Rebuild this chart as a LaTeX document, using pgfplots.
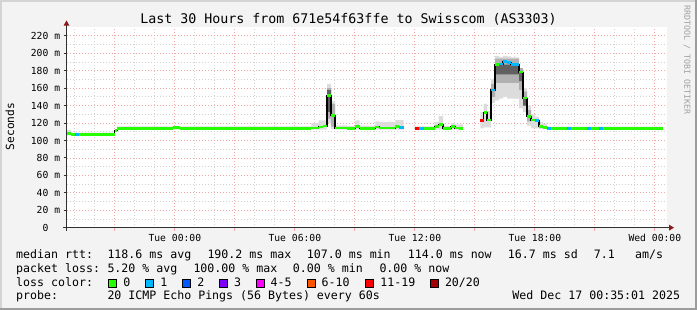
\documentclass[border=0pt]{standalone}
\usepackage{fontspec}
\usepackage{pgfplots}
\pgfplotsset{compat=1.18}
\usepgfplotslibrary{fillbetween}
\newfontfamily\mono{DejaVu Sans Mono}
\definecolor{bgc}{HTML}{F3F3F3}
\definecolor{shA}{HTML}{D4D4D4}
\definecolor{shB}{HTML}{9C9C9C}
\definecolor{mgrid}{HTML}{F0A8A8}
\definecolor{mingrid}{HTML}{D2D2D2}
\definecolor{axisc}{HTML}{303030}
\definecolor{arrowc}{HTML}{8C1A1A}
\definecolor{wm}{HTML}{A0A0A0}
\definecolor{l0}{HTML}{26FF00}
\definecolor{l1}{HTML}{00B8FF}
\definecolor{l2}{HTML}{0059FF}
\definecolor{l3}{HTML}{7E00FF}
\definecolor{l4}{HTML}{FF00FF}
\definecolor{l6}{HTML}{FF5500}
\definecolor{l11}{HTML}{FF0000}
\definecolor{l20}{HTML}{A10000}
\definecolor{smokeL}{HTML}{DCDCDC}
\definecolor{smokeM}{HTML}{B0B0B0}
\definecolor{smokeD}{HTML}{606060}
\newcommand{\lt}{\mono\fontsize{11.6}{12}\selectfont}
\pagecolor{bgc}
\begin{document}
\begin{tikzpicture}
\path (0pt,0pt) rectangle (697pt,310pt);
\fill[shA] (0pt,308pt) rectangle (697pt,310pt);
\fill[shA] (0pt,0pt) rectangle (2pt,310pt);
\fill[shB] (0pt,0pt) rectangle (697pt,2pt);
\fill[shB] (695pt,0pt) rectangle (697pt,310pt);

\begin{axis}[
  at={(66.5pt,82.3pt)}, anchor=south west,
  scale only axis, width=600pt, height=200.5pt,
  xmin=-5.4167, xmax=24.5833, ymin=0, ymax=230,
  axis line style={draw=none},
  axis background/.style={fill=white},
  xtick={-3,0,...,24},
  xticklabels={{},Tue 00:00,{},Tue 06:00,{},Tue 12:00,{},Tue 18:00,{},Wed 00:00},
  minor xtick={-5,...,24},
  ytick={0,20,...,220},
  yticklabels={0\hphantom{mm},20 m,40 m,60 m,80 m,100 m,120 m,140 m,160 m,180 m,200 m,220 m},
  minor ytick={10,30,...,210},
  grid=both,
  major grid style={mgrid, dash pattern=on 1pt off 2pt, line width=0.9pt},
  minor grid style={mingrid, dash pattern=on 1pt off 2pt, line width=0.9pt},
  tick align=outside, major tick length=3pt, minor tick length=0pt,
  xtick style={mgrid, line width=1pt},
  ytick style={axisc, line width=1pt},
  xtick pos=bottom, ytick pos=left,
  ticklabel style={font=\mono\fontsize{9.7}{10}\selectfont, text=black},
  xticklabel style={inner sep=0pt, yshift=-3.5pt},
  yticklabel style={inner sep=0pt, xshift=-3.2pt},
]
% ---------- smoke: light ----------
\addplot[name path=UA, const plot, draw=none] coordinates {(-5.417,112) (-5.19,109) (-3.01,113) (-2.875,116.3) (6.825,120) (7.19,123) (7.61,165) (7.81,145) (8.01,117.5) (8.61,116.5) (9.025,123) (9.24,117) (10.025,122) (10.225,121) (11.025,123.5) (11.44,123.5)};
\addplot[name path=LA, const plot, draw=none] coordinates {(-5.417,106) (-5.19,105.5) (-3.01,110) (-2.875,112.5) (6.825,112.5) (7.61,120) (7.81,113) (8.01,112.5) (11.44,112.5)};
\addplot[smokeL] fill between[of=UA and LA];
\addplot[name path=UC, const plot, draw=none] coordinates {(11.99,116.3) (12.99,121) (13.19,128) (13.41,116.5) (13.81,120) (14.01,118.5) (14.41,118.5)};
\addplot[name path=LC, const plot, draw=none] coordinates {(11.99,112.5) (14.41,112.5)};
\addplot[smokeL] fill between[of=UC and LC];
\addplot[name path=UD, const plot, draw=none] coordinates {(15.275,133) (15.44,142) (15.61,134) (15.81,170) (16.01,197) (16.21,196) (16.41,197) (16.61,196.5) (16.81,195.5) (17.21,182) (17.41,160) (17.61,140) (17.81,130) (18.01,127) (18.21,121) (18.41,119) (18.61,116) (24.41,116)};
\addplot[name path=LD, const plot, draw=none] coordinates {(15.275,114) (15.44,115) (15.81,143) (16.01,146) (16.21,148) (16.41,150) (16.61,148) (17.21,137) (17.41,133) (17.61,117) (17.81,114) (18.21,113) (24.41,112.5)};
\addplot[smokeL] fill between[of=UD and LD];
% ---------- smoke: medium ----------
\addplot[name path=UMB, const plot, draw=none] coordinates {(7.61,160) (7.81,142) (8.01,142)};
\addplot[name path=LMB, const plot, draw=none] coordinates {(7.61,125) (7.81,116) (8.01,116)};
\addplot[smokeM] fill between[of=UMB and LMB];
\addplot[name path=UMD, const plot, draw=none] coordinates {(15.81,165) (16.01,194) (17.21,183) (17.41,156) (17.61,135) (17.81,135)};
\addplot[name path=LMD, const plot, draw=none] coordinates {(15.81,150) (16.01,166) (17.21,158) (17.41,140) (17.61,122) (17.81,122)};
\addplot[smokeM] fill between[of=UMD and LMD];
% ---------- smoke: dark ----------
\addplot[name path=UDB, const plot, draw=none] coordinates {(7.61,158) (7.81,158)};
\addplot[name path=LDB, const plot, draw=none] coordinates {(7.61,133) (7.81,133)};
\addplot[smokeD] fill between[of=UDB and LDB];
\addplot[name path=UDD, const plot, draw=none] coordinates {(16.01,187) (17.21,180) (17.41,150) (17.61,150)};
\addplot[name path=LDD, const plot, draw=none] coordinates {(16.01,176) (17.21,168) (17.41,140) (17.61,140)};
\addplot[smokeD] fill between[of=UDD and LDD];
% ---------- median: black steps ----------
\addplot[const plot, black, line width=1.1pt] coordinates {(-5.417,108.5) (-5.19,107) (-3.01,111.7) (-2.875,113.5) (-0.075,114.5) (0.275,113.5) (6.825,114.3) (7.19,115.5) (7.39,116.6) (7.61,151.4) (7.81,128.4) (8.01,114.3) (8.61,113.5) (9.025,115.8) (9.24,113.5) (10.025,115.5) (10.225,114.3) (11.025,116) (11.225,114.6) (11.44,114.6)};
\addplot[const plot, black, line width=1.1pt] coordinates {(11.99,113.5) (12.99,116) (13.19,118.5) (13.41,113.5) (13.81,116) (14.01,114.3) (14.21,113.5) (14.41,113.5)};
\addplot[const plot, black, line width=1.1pt] coordinates {(15.275,123.2) (15.44,131.9) (15.61,123.5) (15.81,157.9) (16.01,187) (16.21,187.7) (16.41,190.2) (16.61,189.2) (16.81,187) (17.21,178.5) (17.41,148.7) (17.61,128) (17.81,123.5) (18.01,122.7) (18.21,116.3) (18.41,114.7) (18.61,113.8) (24.41,113.8)};
% ---------- median: loss colour 0 ----------
\addplot[jump mark left, l0, line width=2.8pt] coordinates {(-5.417,108.5) (-5.19,107) (-3.01,111.7) (-2.875,113.5) (-0.075,114.5) (0.275,113.5) (6.825,114.3) (7.19,115.5) (7.39,116.6) (7.61,151.4) (7.81,128.4) (8.01,114.3) (8.61,113.5) (9.025,115.8) (9.24,113.5) (10.025,115.5) (10.225,114.3) (11.025,116) (11.225,114.6) (11.44,114.6)};
\addplot[jump mark left, l0, line width=2.8pt] coordinates {(11.99,113.5) (12.99,116) (13.19,118.5) (13.41,113.5) (13.81,116) (14.01,114.3) (14.21,113.5) (14.41,113.5)};
\addplot[jump mark left, l0, line width=2.8pt] coordinates {(15.275,123.2) (15.44,131.9) (15.61,123.5) (15.81,157.9) (16.01,187) (16.21,187.7) (16.41,190.2) (16.61,189.2) (16.81,187) (17.21,178.5) (17.41,148.7) (17.61,128) (17.81,123.5) (18.01,122.7) (18.21,116.3) (18.41,114.7) (18.61,113.8) (24.41,113.8)};
% ---------- median: loss colour 1 ----------
\addplot[l1, line width=2.8pt, unbounded coords=jump] coordinates {(-4.975,107) (-4.775,107) (-4.775,nan) (11.225,114.6) (11.44,114.6) (11.44,nan) (12.225,113.5) (12.44,113.5) (12.44,nan) (15.81,157.9) (16.01,157.9) (16.01,nan) (16.21,187.7) (16.41,187.7) (16.41,nan) (16.41,190.2) (16.61,190.2) (16.61,nan) (16.61,189.2) (16.81,189.2) (16.81,nan) (16.81,187) (17.21,187) (17.21,nan) (18.01,122.7) (18.21,122.7) (18.21,nan) (18.61,113.8) (18.81,113.8) (18.81,nan) (19.61,113.8) (19.81,113.8) (19.81,nan) (20.61,113.8) (20.81,113.8) (20.81,nan) (21.21,113.8) (21.41,113.8)};
% ---------- median: loss colour 11-19 ----------
\addplot[l11, line width=2.8pt, unbounded coords=jump] coordinates {(11.99,113.5) (12.225,113.5) (12.225,nan) (15.275,123.2) (15.44,123.2)};
\end{axis}

% axis lines and arrows
\draw[axisc, line width=1pt] (66.5pt,79pt) -- (66.5pt,284.5pt);
\fill[arrowc] (63.5pt,284.3pt) -- (69.5pt,284.3pt) -- (66.5pt,289.5pt) -- cycle;
\draw[axisc, line width=1pt] (63pt,82.3pt) -- (669pt,82.3pt);
\fill[arrowc] (669pt,79.3pt) -- (669pt,85.3pt) -- (674pt,82.3pt) -- cycle;

% title, axis label, watermark
\node[anchor=base, inner sep=0pt, font=\mono\fontsize{13.3}{14}\selectfont] at (348.5pt,286pt) {Last 30 Hours from 671e54f63ffe to Swisscom (AS3303)};
\node[rotate=90, inner sep=0pt, font=\mono\fontsize{11.2}{12}\selectfont] at (10pt,183.5pt) {Seconds};
\node[rotate=-90, inner sep=0pt, text=wm, font=\mono\fontsize{8.3}{9}\selectfont] at (687pt,250pt) {RRDTOOL / TOBI OETIKER};

% legend line 1
\node[anchor=base west, inner sep=0pt, font=\lt] at (16pt,51.7pt) {median rtt:};
\node[anchor=base west, inner sep=0pt, font=\lt] at (107.3pt,51.7pt) {118.6 ms avg};
\node[anchor=base west, inner sep=0pt, font=\lt] at (207.3pt,51.7pt) {190.2 ms max};
\node[anchor=base west, inner sep=0pt, font=\lt] at (306.7pt,51.7pt) {107.0 ms min};
\node[anchor=base west, inner sep=0pt, font=\lt] at (407.7pt,51.7pt) {114.0 ms now};
\node[anchor=base west, inner sep=0pt, font=\lt] at (507.7pt,51.7pt) {16.7 ms sd};
\node[anchor=base west, inner sep=0pt, font=\lt] at (593.7pt,51.7pt) {7.1};
\node[anchor=base west, inner sep=0pt, font=\lt] at (635pt,51.7pt) {am/s};
% legend line 2
\node[anchor=base west, inner sep=0pt, font=\lt] at (16pt,37.8pt) {packet loss:};
\node[anchor=base west, inner sep=0pt, font=\lt] at (107.3pt,37.8pt) {5.20 \% avg};
\node[anchor=base west, inner sep=0pt, font=\lt] at (193.3pt,37.8pt) {100.00 \% max};
\node[anchor=base west, inner sep=0pt, font=\lt] at (292.7pt,37.8pt) {0.00 \% min};
\node[anchor=base west, inner sep=0pt, font=\lt] at (379.3pt,37.8pt) {0.00 \% now};
% legend line 3
\node[anchor=base west, inner sep=0pt, font=\lt] at (16pt,23.9pt) {loss color:};
\foreach \bx/\c in {108.7/l0, 145.7/l1, 182.7/l2, 219.3/l3, 256/l4, 307/l6, 365.7/l11, 430.3/l20}{
  \filldraw[fill=\c, draw=black, line width=0.8pt] (\bx pt,22.5pt) rectangle ++(8pt,8.5pt);
}
\node[anchor=base west, inner sep=0pt, font=\lt] at (123.2pt,23.9pt) {0};
\node[anchor=base west, inner sep=0pt, font=\lt] at (160.2pt,23.9pt) {1};
\node[anchor=base west, inner sep=0pt, font=\lt] at (197.2pt,23.9pt) {2};
\node[anchor=base west, inner sep=0pt, font=\lt] at (233.8pt,23.9pt) {3};
\node[anchor=base west, inner sep=0pt, font=\lt] at (270.5pt,23.9pt) {4-5};
\node[anchor=base west, inner sep=0pt, font=\lt] at (321.5pt,23.9pt) {6-10};
\node[anchor=base west, inner sep=0pt, font=\lt] at (380.2pt,23.9pt) {11-19};
\node[anchor=base west, inner sep=0pt, font=\lt] at (444.8pt,23.9pt) {20/20};
% legend line 4
\node[anchor=base west, inner sep=0pt, font=\lt] at (16pt,10pt) {probe:};
\node[anchor=base west, inner sep=0pt, font=\lt] at (107.3pt,10pt) {20 ICMP Echo Pings (56 Bytes) every 60s};
\node[anchor=base east, inner sep=0pt, font=\lt] at (680.3pt,10pt) {Wed Dec 17 00:35:01 2025};
\pgfresetboundingbox
\path[use as bounding box] (0pt,0pt) rectangle (697pt,310pt);
\end{tikzpicture}
\end{document}
